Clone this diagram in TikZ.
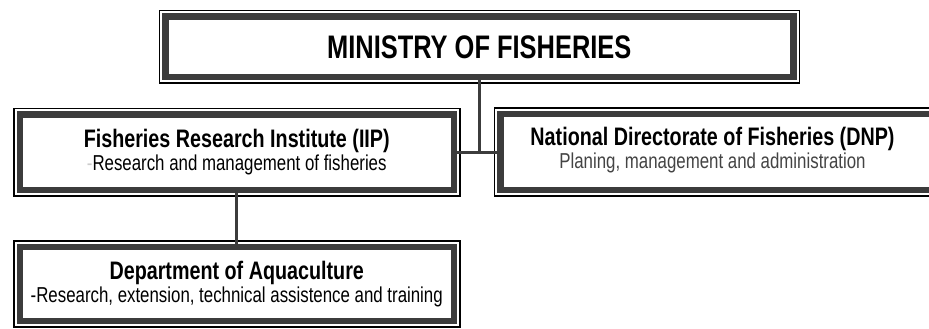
\documentclass[tikz,border=0pt]{standalone}
\usepackage{fontspec}
\setmainfont{Liberation Sans}[FakeStretch=0.78]
\definecolor{band}{HTML}{3C3C3C}
\definecolor{subgray}{HTML}{444444}
\begin{document}
\begin{tikzpicture}[x=1pt,y=-1pt,
  frame/.style={rectangle, inner sep=0pt, anchor=north west,
    preaction={draw=black, line width=13.5pt},
    preaction={draw=white, line width=10.5pt},
    fill=white, draw=band, line width=6.5pt, align=center, text=black},
  conn/.style={draw=band, line width=3pt},
]
\useasboundingbox (0,0) rectangle (929,329);
\clip (0,0) rectangle (929,329);
% boxes
\node[frame, minimum width=628pt, minimum height=60.5pt,
  font=\fontsize{32.6}{33}\selectfont\bfseries] (min) at (162,13.5) {MINISTRY OF FISHERIES};
\node[frame, minimum width=434pt, minimum height=75.5pt] (fri) at (16.5,111)
  {{\fontsize{25.3}{26}\selectfont\bfseries Fisheries Research Institute (IIP)}\\[1pt]
   {\fontsize{21.6}{25}\selectfont{\color{black!20}-}Research and management of fisheries}};
\node[frame, minimum width=440pt, minimum height=76pt] (dnp) at (497,110.5) {};
\node[align=center, inner sep=0pt] (dnptext) at (712.5,150)
  {{\fontsize{25.3}{26}\selectfont\bfseries National Directorate of Fisheries (DNP)}\\[1pt]
   {\fontsize{21.6}{25}\selectfont\color{subgray}Planing, management and administration}};
\node[frame, minimum width=434pt, minimum height=74pt] (dep) at (16.5,243.5)
  {{\fontsize{25.3}{26}\selectfont\bfseries Department of Aquaculture}\\[1pt]
   {\fontsize{21.6}{25}\selectfont -Research, extension, technical assistence and training}};
% connectors
\coordinate (jn) at (min.south |- fri.east);
\draw[conn] (min.south) -- (jn);
\draw[conn] (fri.east) -- (jn) -- (dnp.west |- fri.east);
\draw[conn] (fri.south) -- (dep.north);
\end{tikzpicture}
\end{document}
